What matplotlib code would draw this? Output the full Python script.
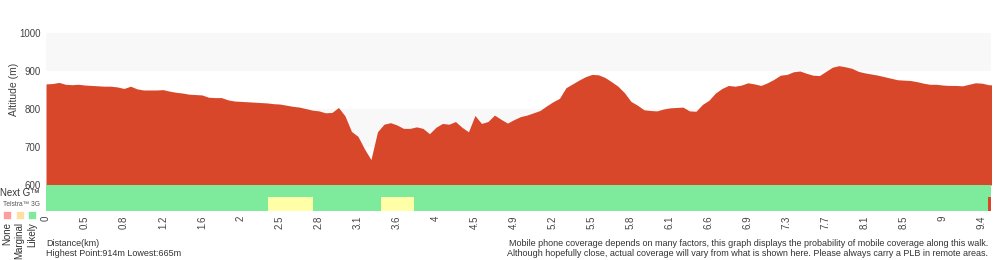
import matplotlib
matplotlib.use("Agg")
import matplotlib.pyplot as plt
from matplotlib.patches import Rectangle

plt.rcParams['font.family'] = ['Liberation Sans', 'DejaVu Sans']

# ---- data ----
altitude_m = [866, 867, 870, 865, 864, 865, 863, 862, 861, 860, 860, 858, 854, 860, 853, 850,
              850, 850, 851, 847, 844, 842, 839, 838, 837, 831, 830, 830, 824, 821, 820, 819,
              818, 817, 816, 814, 813, 810, 807, 805, 801, 797, 795, 790, 791, 804, 782, 741,
              728, 695, 667, 740, 760, 764, 758, 749, 749, 753, 749, 735, 752, 762, 760, 767,
              752, 740, 783, 762, 767, 784, 773, 763, 772, 780, 784, 790, 796, 808, 819, 828,
              856, 866, 876, 885, 891, 890, 883, 872, 860, 843, 820, 810, 798, 796, 795, 800,
              803, 804, 805, 795, 794, 812, 823, 842, 854, 862, 860, 863, 869, 866, 862, 869,
              878, 889, 891, 898, 900, 894, 889, 888, 899, 910, 914, 911, 907, 899, 895, 892,
              889, 885, 881, 877, 876, 875, 872, 868, 865, 865, 863, 862, 862, 861, 865, 869,
              868, 864, 863]
distance_labels = ["0", "0.5", "0.8", "1.2", "1.6", "2", "2.5", "2.8", "3.1", "3.6", "4", "4.5",
                   "4.9", "5.2", "5.5", "5.8", "6.1", "6.6", "6.9", "7.3", "7.7", "8.1", "8.5",
                   "9", "9.4"]
samples_per_label = 6
# coverage runs: (level, length in samples)
nextg_runs = [("Likely", 145.4)]
telstra3g_runs = [("Likely", 34.2), ("Marginal", 6.9), ("Likely", 10.4), ("Marginal", 5.1),
                  ("Likely", 88.4), ("End", 0.4)]
highest, lowest = 914, 665

# ---- style ----
area_col = '#d9472a'
band_col = '#f8f8f8'
cov_colors = {"None": '#ff9c9c', "Marginal": '#ffffa8', "Likely": '#7deb9b', "End": area_col}
legend_colors = ['#ff9c9c', '#ffdea2', '#7deb9b']
text_col = '#333333'
tick_col = '#444444'

fig = plt.figure(figsize=(10, 2.6), dpi=100)
ax = fig.add_axes([0.046, 1 - 211/260, 0.945, (211 - 33)/260])

px_per_m = 0.38
row1_bottom = 600 - 12.5 / px_per_m
row2_bottom = 600 - 26 / px_per_m
xmax = 145.4

# background bands
for lo, hi in [(900, 1000), (700, 800)]:
    ax.axhspan(lo, hi, color=band_col, zorder=0, lw=0)

x = list(range(len(altitude_m)))
ax.fill_between(x, 600, altitude_m, color=area_col, lw=0, zorder=2)

def draw_runs(runs, y0, y1):
    start = 0
    for level, length in runs:
        ax.add_patch(Rectangle((start, y0), length, y1 - y0, color=cov_colors[level],
                               lw=0, zorder=3))
        start += length

draw_runs(nextg_runs, row1_bottom, 600)
draw_runs(telstra3g_runs, row2_bottom, row1_bottom)

ax.set_xlim(0, xmax)
ax.set_ylim(row2_bottom, 1000)
ax.set_yticks([600, 700, 800, 900, 1000])
ax.set_yticklabels(["600", "700", "800", "900", "1000"])
ax.set_xticks([i * samples_per_label for i in range(len(distance_labels))])
ax.set_xticklabels(distance_labels, rotation=90)
ax.tick_params(axis='both', length=0, labelsize=7, colors=tick_col)
ax.tick_params(axis='y', pad=4)
ax.tick_params(axis='x', pad=3)
for s in ax.spines.values():
    s.set_visible(False)

# y label
fig.text(14/1000, 1 - 89/260, "Altitude (m)", rotation=90, ha='center', va='center',
         fontsize=7.5, color=tick_col)

# legend block
fig.text(0, 1 - 193/260, "Next G\u2122", ha='left', va='center', fontsize=7, color=text_col)
fig.text(3/1000, 1 - 205/260, "Telstra\u2122 3G", ha='left', va='center', fontsize=4.8,
         color='#555555')
for i, c in enumerate(legend_colors):
    fig.patches.append(Rectangle(((3 + 12.5*i)/1000, 1 - 219/260), 8/1000, 8/260,
                                 transform=fig.transFigure, facecolor=c,
                                 edgecolor='white', lw=0.5))
for i, lab in enumerate(["None", "Marginal", "Likely"]):
    fig.text((7 + 12.5*i)/1000, 1 - 222/260, lab, rotation=90, ha='center', va='top',
             fontsize=7, color=text_col)

# bottom texts
fig.text(46/1000, 1 - 244/260, "Distance(km)", ha='left', va='center', fontsize=6.5,
         color=text_col)
fig.text(46/1000, 1 - 253/260, f"Highest Point:{highest}m Lowest:{lowest}m", ha='left',
         va='center', fontsize=6.5, color=text_col)
fig.text(988/1000, 1 - 244/260,
         "Mobile phone coverage depends on many factors, this graph displays the probability of mobile coverage along this walk.",
         ha='right', va='center', fontsize=6.45, color=text_col)
fig.text(988/1000, 1 - 253/260,
         "Although hopefully close, actual coverage will vary from what is shown here. Please always carry a PLB in remote areas.",
         ha='right', va='center', fontsize=6.45, color=text_col)

fig.savefig("out.png", dpi=100, facecolor='white')
